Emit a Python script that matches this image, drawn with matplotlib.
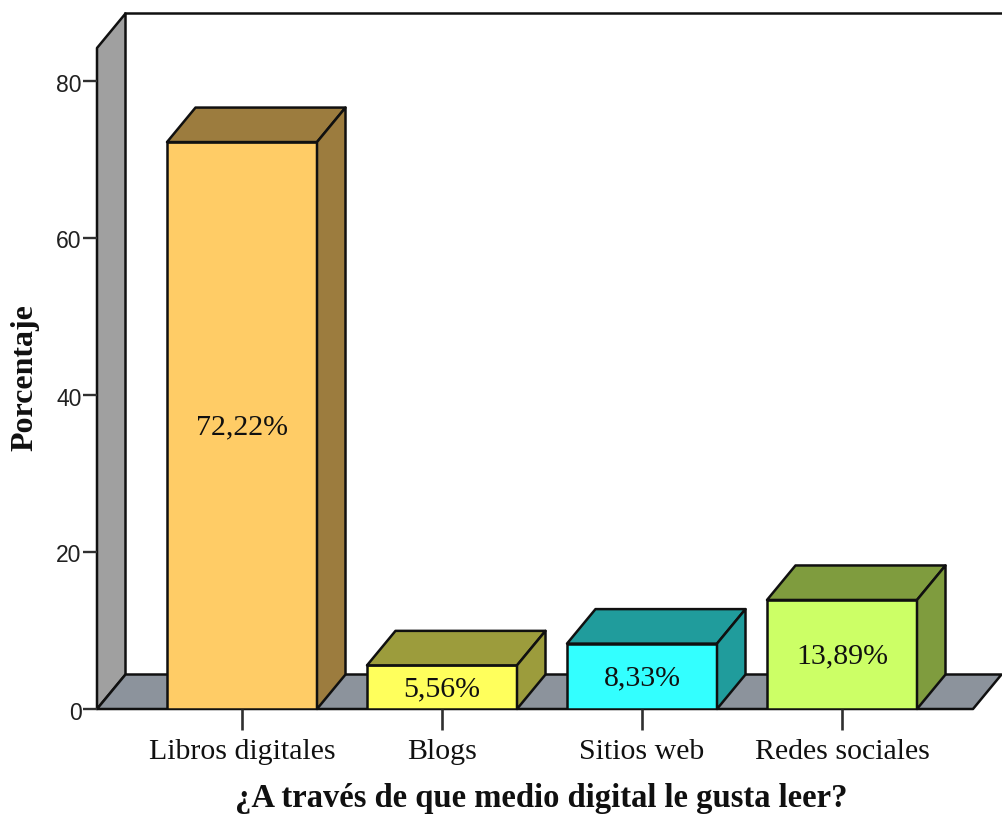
import matplotlib
matplotlib.use('Agg')
import matplotlib.pyplot as plt
from matplotlib.patches import Polygon
from matplotlib.transforms import ScaledTranslation

categories = ['Libros digitales', 'Blogs', 'Sitios web', 'Redes sociales']
values = [72.22, 5.56, 8.33, 13.89]
value_labels = ['72,22%', '5,56%', '8,33%', '13,89%']
y_ticks = [0, 20, 40, 60, 80]
front_colors = ['#ffcc66', '#ffff5c', '#33ffff', '#ccff66']
shade_colors = ['#9c7c3e', '#9c9c3c', '#209c9c', '#7f9c3e']

SERIF = 'Liberation Serif'
LW = 1.8
BAR_WIDTH = 0.75
# depth of the fake 3d box, in data units
DX = 28.5 / 200
DY = 34.5 / 7.85

fig = plt.figure(figsize=(10.03, 8.14), dpi=100)
ax = fig.add_axes([97 / 1003, 105 / 814, 876 / 1003, 661 / 814])
x_min, x_max = -0.725, 3.655
y_max = 661 / 7.85
ax.set_xlim(x_min, x_max)
ax.set_ylim(0, y_max)
for s in ax.spines.values():
    s.set_visible(False)


def face(points, color, z):
    ax.add_patch(Polygon(points, closed=True, facecolor=color, edgecolor='#101010',
                         linewidth=LW, joinstyle='round', clip_on=False, zorder=z))


# back wall lines, side wall and floor
face([(x_min, 0), (x_min + DX, DY), (x_min + DX, y_max + DY), (x_min, y_max)], '#a0a0a0', 1)
face([(x_min, 0), (x_min + DX, DY), (x_max + DX, DY), (x_max, 0)], '#8c939c', 1)
ax.plot([x_min + DX, x_max + DX], [y_max + DY, y_max + DY], color='#101010', lw=LW,
        clip_on=False, zorder=1)

# bars
for i, v in enumerate(values):
    left = i - BAR_WIDTH / 2
    right = i + BAR_WIDTH / 2
    ax.bar(i, v, BAR_WIDTH, color=front_colors[i], edgecolor='#101010', linewidth=LW, zorder=3)
    face([(left, v), (left + DX, v + DY), (right + DX, v + DY), (right, v)], shade_colors[i], 3)
    face([(right, 0), (right + DX, DY), (right + DX, v + DY), (right, v)], shade_colors[i], 3)
    ax.annotate(value_labels[i], (i, v / 2), xytext=(0, -1.5), textcoords='offset points',
                ha='center', va='center', family=SERIF, fontsize=21.5, color='#101010', zorder=4)

ax.set_xticks(range(len(categories)))
ax.set_xticklabels(categories, family=SERIF, fontsize=21.5)
ax.set_yticks(y_ticks)
ax.tick_params(axis='x', length=15, width=1.9, color='#303030', pad=6.5, labelcolor='#101010')
ax.tick_params(axis='y', length=10, width=1.7, color='#303030', pad=1, labelsize=16.5,
               labelcolor='#202020')
shift = ScaledTranslation(0, -1.5 / 100, fig.dpi_scale_trans)
for t in ax.get_yticklabels():
    t.set_family('Liberation Sans')
    t.set_transform(t.get_transform() + shift)

fig.text(541 / 1003, 1 - 799 / 814, '¿A través de que medio digital le gusta leer?', ha='center',
         va='center', family=SERIF, weight='bold', fontsize=23.5, color='#101010')
fig.text(25 / 1003, 1 - 378 / 814, 'Porcentaje', rotation=90, ha='center', va='center',
         family=SERIF, weight='bold', fontsize=23, color='#101010')

fig.savefig('out.png', dpi=100)
